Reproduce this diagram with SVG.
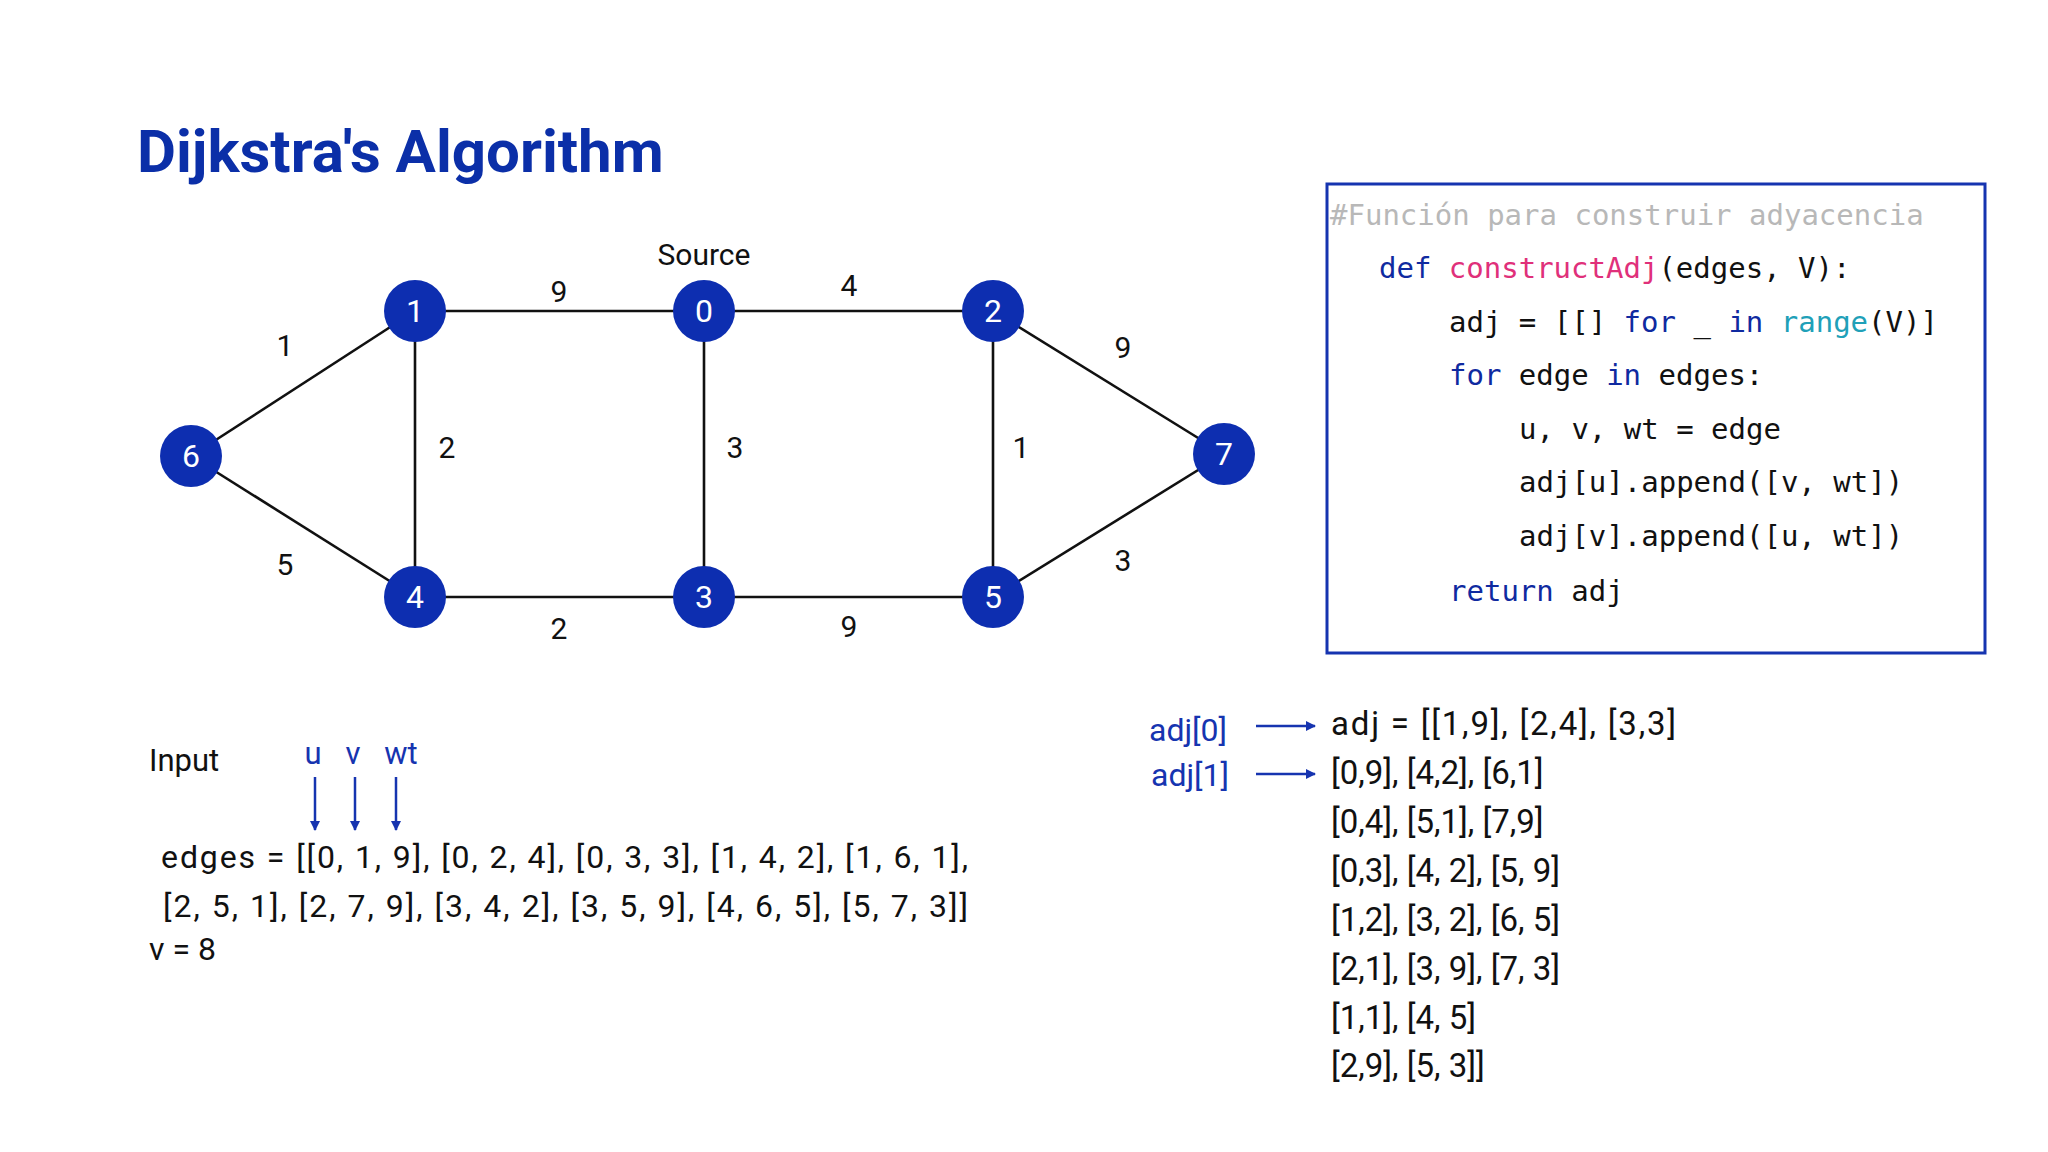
<svg xmlns="http://www.w3.org/2000/svg" width="2048" height="1152" viewBox="0 0 2048 1152">
<defs>
<style>
.t{font-family:Roboto,"Liberation Sans",sans-serif;fill:#111}
.lbl{font-family:Roboto,"Liberation Sans",sans-serif;font-size:30px;fill:#111;text-anchor:middle}
.nd{fill:#0d2eb0}
.nt{font-family:Roboto,"Liberation Sans",sans-serif;font-size:32px;fill:#fff;text-anchor:middle}
.e{stroke:#111;stroke-width:2.6}
.code{font-family:"DejaVu Sans Mono",monospace;font-size:29px;fill:#111}
.kw{fill:#0f2aa0}.fn{fill:#e0307a}.bi{fill:#20a0b8}.cm{fill:#b8b8b8}
.bl{fill:#1634b0}
.ar{stroke:#1634b0;stroke-width:2.5;fill:none}
</style>
<marker id="ah" markerWidth="10" markerHeight="10" refX="9" refY="5" orient="auto" markerUnits="userSpaceOnUse"><path d="M0,0 L10,5 L0,10 z" fill="#1634b0"/></marker>
</defs>
<rect width="2048" height="1152" fill="#fff"/>
<text x="137" y="172" font-family="Roboto,'Liberation Sans',sans-serif" font-weight="bold" font-size="60" fill="#0b2fa8">Dijkstra's Algorithm</text>
<g id="connectors">
<line class="e" x1="415" y1="311" x2="704" y2="311"/>
<line class="e" x1="704" y1="311" x2="993" y2="311"/>
<line class="e" x1="191" y1="456" x2="415" y2="311"/>
<line class="e" x1="191" y1="456" x2="415" y2="597"/>
<line class="e" x1="415" y1="311" x2="415" y2="597"/>
<line class="e" x1="704" y1="311" x2="704" y2="597"/>
<line class="e" x1="993" y1="311" x2="993" y2="597"/>
<line class="e" x1="993" y1="311" x2="1224" y2="454"/>
<line class="e" x1="993" y1="597" x2="1224" y2="454"/>
<line class="e" x1="415" y1="597" x2="993" y2="597"/>
<text class="lbl" x="559" y="302">9</text>
<text class="lbl" x="849" y="296">4</text>
<text class="lbl" x="285" y="356">1</text>
<text class="lbl" x="447" y="458">2</text>
<text class="lbl" x="735" y="458">3</text>
<text class="lbl" x="1021" y="458">1</text>
<text class="lbl" x="1123" y="358">9</text>
<text class="lbl" x="285" y="575">5</text>
<text class="lbl" x="1123" y="571">3</text>
<text class="lbl" x="559" y="639">2</text>
<text class="lbl" x="849" y="637">9</text>
<text class="lbl" x="704" y="265">Source</text>
</g>
<g id="n1"><circle class="nd" cx="415" cy="311" r="31"/><text class="nt" x="415" y="322">1</text></g>
<g id="n0"><circle class="nd" cx="704" cy="311" r="31"/><text class="nt" x="704" y="322">0</text></g>
<g id="n2"><circle class="nd" cx="993" cy="311" r="31"/><text class="nt" x="993" y="322">2</text></g>
<g id="n6"><circle class="nd" cx="191" cy="456" r="31"/><text class="nt" x="191" y="467">6</text></g>
<g id="n7"><circle class="nd" cx="1224" cy="454" r="31"/><text class="nt" x="1224" y="465">7</text></g>
<g id="n4"><circle class="nd" cx="415" cy="597" r="31"/><text class="nt" x="415" y="608">4</text></g>
<g id="n3"><circle class="nd" cx="704" cy="597" r="31"/><text class="nt" x="704" y="608">3</text></g>
<g id="n5"><circle class="nd" cx="993" cy="597" r="31"/><text class="nt" x="993" y="608">5</text></g>
<g id="code">
<rect x="1327" y="184" width="658" height="469" fill="none" stroke="#1634b0" stroke-width="3"/>
<text class="code cm" x="1330" y="225">#Función para construir adyacencia</text>
<text class="code" x="1379" y="278"><tspan class="kw">def</tspan> <tspan class="fn">constructAdj</tspan>(edges, V):</text>
<text class="code" x="1449" y="332">adj = [[] <tspan class="kw">for</tspan> _ <tspan class="kw">in</tspan> <tspan class="bi">range</tspan>(V)]</text>
<text class="code" x="1449" y="385"><tspan class="kw">for</tspan> edge <tspan class="kw">in</tspan> edges:</text>
<text class="code" x="1519" y="439">u, v, wt = edge</text>
<text class="code" x="1519" y="492">adj[u].append([v, wt])</text>
<text class="code" x="1519" y="546">adj[v].append([u, wt])</text>
<text class="code" x="1449" y="601"><tspan class="kw">return</tspan> adj</text>
</g>
<g id="input">
<text class="t" x="149" y="771" font-size="31">Input</text>
<text class="t bl" x="313" y="764" font-size="31" text-anchor="middle">u</text>
<text class="t bl" x="353" y="764" font-size="31" text-anchor="middle">v</text>
<text class="t bl" x="401" y="764" font-size="31" text-anchor="middle">wt</text>
<line class="ar" x1="315" y1="777" x2="315" y2="830" marker-end="url(#ah)"/>
<line class="ar" x1="355" y1="777" x2="355" y2="830" marker-end="url(#ah)"/>
<line class="ar" x1="396" y1="777" x2="396" y2="830" marker-end="url(#ah)"/>
<text class="t" x="161" y="868" font-size="32" textLength="807">edges = [[0, 1, 9], [0, 2, 4], [0, 3, 3], [1, 4, 2], [1, 6, 1],</text>
<text class="t" x="163" y="917" font-size="32" textLength="805">[2, 5, 1], [2, 7, 9], [3, 4, 2], [3, 5, 9], [4, 6, 5], [5, 7, 3]]</text>
<text class="t" x="149" y="960" font-size="32">v = 8</text>
</g>
<g id="adj">
<text class="t bl" x="1149" y="741" font-size="32">adj[0]</text>
<text class="t bl" x="1151" y="786" font-size="32">adj[1]</text>
<line class="ar" x1="1256" y1="726" x2="1315" y2="726" marker-end="url(#ah)"/>
<line class="ar" x1="1256" y1="774" x2="1315" y2="774" marker-end="url(#ah)"/>
<text class="t" x="1331" y="735" font-size="33" textLength="345">adj = [[1,9], [2,4], [3,3]</text>
<text class="t" x="1331" y="784" font-size="33">[0,9], [4,2], [6,1]</text>
<text class="t" x="1331" y="833" font-size="33">[0,4], [5,1], [7,9]</text>
<text class="t" x="1331" y="882" font-size="33">[0,3], [4, 2], [5, 9]</text>
<text class="t" x="1331" y="931" font-size="33">[1,2], [3, 2], [6, 5]</text>
<text class="t" x="1331" y="980" font-size="33">[2,1], [3, 9], [7, 3]</text>
<text class="t" x="1331" y="1029" font-size="33">[1,1], [4, 5]</text>
<text class="t" x="1331" y="1077" font-size="33">[2,9], [5, 3]]</text>
</g>
</svg>
